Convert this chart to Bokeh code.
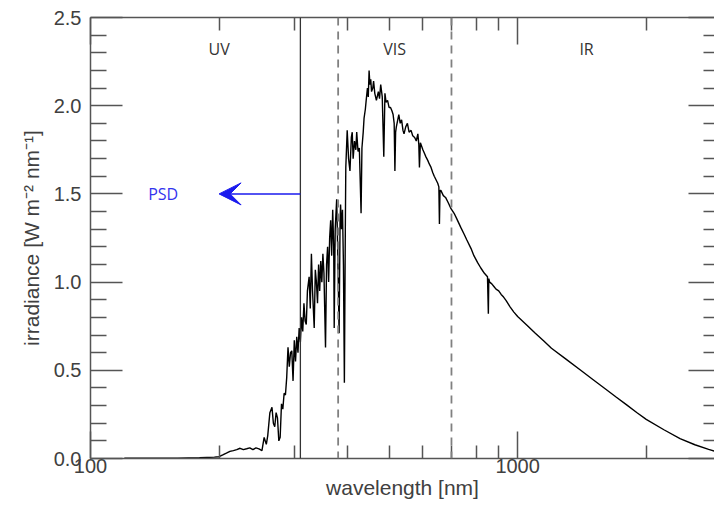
from bokeh.plotting import figure
from bokeh.models import (FixedTicker, LinearAxis, LogAxis, Span, Arrow, VeeHead,
                          PrintfTickFormatter, Range1d, ColumnDataSource)
from bokeh.core.properties import value
from bokeh.embed import file_html
from bokeh.resources import INLINE

# ---------------- data ----------------
wavelength_nm = [
    120, 140, 160, 180, 195, 200, 204, 208, 212, 216, 220, 224, 228, 232, 236, 240,
    244, 248, 252, 255, 258, 260, 263, 266, 268, 270, 272, 274, 276, 278, 280, 282,
    284, 286, 288, 290, 292, 294, 296, 298, 300, 302, 304, 306, 308, 310, 312, 314,
    316, 318, 320, 322, 325, 327, 329, 331, 334, 336, 338, 340, 342, 344, 346, 348,
    350, 352, 355, 357, 359, 361, 363, 365, 367, 369, 371, 372, 374, 377, 379, 382,
    384, 385, 387, 389, 391, 393, 395, 396, 399, 402, 405, 408, 410, 412, 415, 418,
    420, 423, 426, 430, 432, 435, 437, 440, 442, 445, 447, 449, 451, 453, 455, 458,
    460, 463, 465, 467, 470, 472, 475, 478, 482, 486, 489, 492, 496, 500, 504, 508,
    511, 514, 516, 518, 520, 524, 527, 531, 535, 539, 542, 547, 552, 557, 563, 568,
    574, 579, 584, 587, 589, 592, 594, 600, 605, 610, 616, 621, 627, 633, 638, 644,
    650, 654, 656, 658, 661, 670, 678, 688, 697, 710, 720, 736, 750, 760, 778, 790,
    806, 820, 836, 850, 854, 856, 860, 870, 880, 890, 903, 915, 927, 940, 960, 980,
    1000, 1050, 1100, 1150, 1200, 1300, 1400, 1500, 1600, 1700, 1800, 1900, 2000,
    2200, 2400, 2600, 2800, 3000,
]
irradiance = [
    0.002, 0.001, 0.002, 0.004, 0.008, 0.010, 0.020, 0.030, 0.040, 0.045, 0.050, 0.058, 0.050, 0.055, 0.060, 0.050,
    0.060, 0.055, 0.045, 0.120, 0.080, 0.130, 0.260, 0.290, 0.200, 0.180, 0.260, 0.230, 0.100, 0.120, 0.310, 0.280,
    0.370, 0.360, 0.460, 0.630, 0.520, 0.600, 0.610, 0.440, 0.670, 0.550, 0.690, 0.600, 0.740, 0.660, 0.800, 0.720,
    0.880, 0.780, 0.760, 0.950, 1.030, 0.850, 1.160, 0.950, 0.740, 1.070, 1.000, 0.880, 1.100, 0.950, 1.120, 1.000,
    1.160, 1.050, 0.630, 1.100, 1.200, 1.000, 1.250, 1.350, 1.150, 1.410, 1.200, 0.740, 1.300, 1.470, 1.200, 0.710,
    1.350, 1.440, 1.300, 1.410, 1.100, 0.430, 1.300, 1.650, 1.860, 1.700, 1.630, 1.820, 1.850, 1.700, 1.800, 1.750,
    1.850, 1.740, 1.760, 1.390, 1.760, 1.850, 1.930, 1.980, 2.030, 2.100, 2.050, 2.200, 2.120, 2.150, 2.080, 2.100,
    2.140, 2.070, 2.050, 2.030, 2.060, 2.080, 2.040, 2.120, 2.050, 1.710, 2.070, 2.020, 2.030, 1.990, 1.990, 1.970,
    1.950, 1.900, 1.630, 1.850, 1.880, 1.920, 1.950, 1.900, 1.920, 1.860, 1.840, 1.880, 1.900, 1.850, 1.860, 1.830,
    1.820, 1.800, 1.840, 1.780, 1.650, 1.790, 1.780, 1.750, 1.730, 1.710, 1.690, 1.670, 1.650, 1.620, 1.600, 1.580,
    1.560, 1.540, 1.330, 1.520, 1.520, 1.490, 1.480, 1.450, 1.420, 1.390, 1.360, 1.310, 1.270, 1.240, 1.190, 1.150,
    1.110, 1.080, 1.050, 1.030, 0.820, 1.020, 1.000, 0.990, 0.975, 0.960, 0.950, 0.930, 0.915, 0.895, 0.860, 0.830,
    0.805, 0.757, 0.710, 0.667, 0.625, 0.562, 0.503, 0.448, 0.397, 0.349, 0.304, 0.261, 0.222,
    0.163, 0.113, 0.078, 0.052, 0.030,
]

region_names = ["UV", "VIS", "IR"]
region_label_x = [200, 515, 1450]
region_label_y = [2.32, 2.32, 2.32]

solid_boundary_nm = [310]
dashed_boundary_nm = [380, 700]

psd_label = ["PSD"]
psd_label_x = [148]
psd_label_y = [1.5]
psd_arrow_start_nm = 310
psd_arrow_end_nm = 200

x_major_ticks = [100, 1000]
x_minor_ticks = [200, 300, 400, 500, 600, 700, 800, 900, 2000, 3000]
y_major_ticks = [0.0, 0.5, 1.0, 1.5, 2.0, 2.5]
y_minor_ticks = [round(0.1 * i, 1) for i in range(26) if i % 5 != 0]

# ---------------- figure ----------------
AXIS_COL = "#555555"
TXT_COL = "#404040"
FONT = "Liberation Sans"

p = figure(width=714, height=506, x_axis_type="log",
           x_range=Range1d(100, 2890), y_range=Range1d(0, 2.5),
           output_backend="svg", toolbar_location=None,
           x_axis_location=None, y_axis_location=None,
           min_border_left=90, min_border_right=0, min_border_top=17, min_border_bottom=48)
p.outline_line_color = None
p.grid.visible = False
p.background_fill_color = "white"


def style_axis(ax, major_len, minor_len, show_labels=True, show_line=True):
    ax.axis_line_color = AXIS_COL if show_line else None
    ax.axis_line_width = 1.5
    ax.major_tick_line_color = AXIS_COL
    ax.minor_tick_line_color = AXIS_COL
    ax.major_tick_line_width = 1.5
    ax.minor_tick_line_width = 1.5
    ax.major_tick_in = major_len
    ax.major_tick_out = 0
    ax.minor_tick_in = minor_len
    ax.minor_tick_out = 0
    ax.major_label_text_font = FONT
    ax.major_label_text_color = TXT_COL
    if show_labels:
        ax.major_label_text_font_size = "20px"
    else:
        ax.major_label_text_font_size = "1px"
        ax.major_label_text_alpha = 0
        ax.major_label_standoff = 0


xt = FixedTicker(ticks=x_major_ticks, minor_ticks=x_minor_ticks)
yt = FixedTicker(ticks=y_major_ticks, minor_ticks=y_minor_ticks)

bottom = LogAxis(ticker=xt, axis_label="wavelength [nm]",
                 formatter=PrintfTickFormatter(format="%d"))
style_axis(bottom, 27, 13)
bottom.major_label_standoff = 0
bottom.axis_label_standoff = 0
bottom.axis_label_text_font = FONT
bottom.axis_label_text_font_style = "normal"
bottom.axis_label_text_font_size = "21px"
bottom.axis_label_text_color = TXT_COL
p.add_layout(bottom, "below")

top = LogAxis(ticker=xt)
style_axis(top, 27, 13, show_labels=False)
p.add_layout(top, "above")

left = LinearAxis(ticker=yt, axis_label="irradiance [W m\u207b\u00b2 nm\u207b\u00b9]",
                  formatter=PrintfTickFormatter(format="%.1f"))
style_axis(left, 32, 16)
left.major_label_standoff = 9
left.axis_label_standoff = 8
left.axis_label_text_font = FONT
left.axis_label_text_font_style = "normal"
left.axis_label_text_font_size = "21px"
left.axis_label_text_color = TXT_COL
p.add_layout(left, "left")

right = LinearAxis(ticker=yt)
style_axis(right, 26, 11, show_labels=False, show_line=False)
p.add_layout(right, "right")

# region boundaries
for loc in solid_boundary_nm:
    p.add_layout(Span(location=loc, dimension="height", line_color="#333333", line_width=1.3))
for loc in dashed_boundary_nm:
    p.add_layout(Span(location=loc, dimension="height", line_color="#808080",
                      line_width=1.8, line_dash="8 6"))

# spectrum
src = ColumnDataSource(dict(x=wavelength_nm, y=irradiance))
p.line("x", "y", source=src, line_color="black", line_width=1.4)

# region labels
lab = ColumnDataSource(dict(x=region_label_x, y=region_label_y, t=region_names))
p.text("x", "y", text="t", source=lab, text_font=value("Open Sans"), text_font_size="16px",
       text_color="#333333", text_align="center", text_baseline="middle")

# PSD arrow
BLUE = "#1a1aee"
p.add_layout(Arrow(x_start=psd_arrow_start_nm, y_start=psd_label_y[0],
                   x_end=psd_arrow_end_nm, y_end=psd_label_y[0],
                   line_color=BLUE, line_width=1.5,
                   end=VeeHead(size=22, fill_color=BLUE, line_color=BLUE)))
psd = ColumnDataSource(dict(x=psd_label_x, y=psd_label_y, t=psd_label))
p.text("x", "y", text="t", source=psd, text_font=value("Open Sans"), text_font_size="16px",
       text_color="#3333ee", text_align="center", text_baseline="middle")

open("out.html", "w").write(file_html(p, INLINE))
